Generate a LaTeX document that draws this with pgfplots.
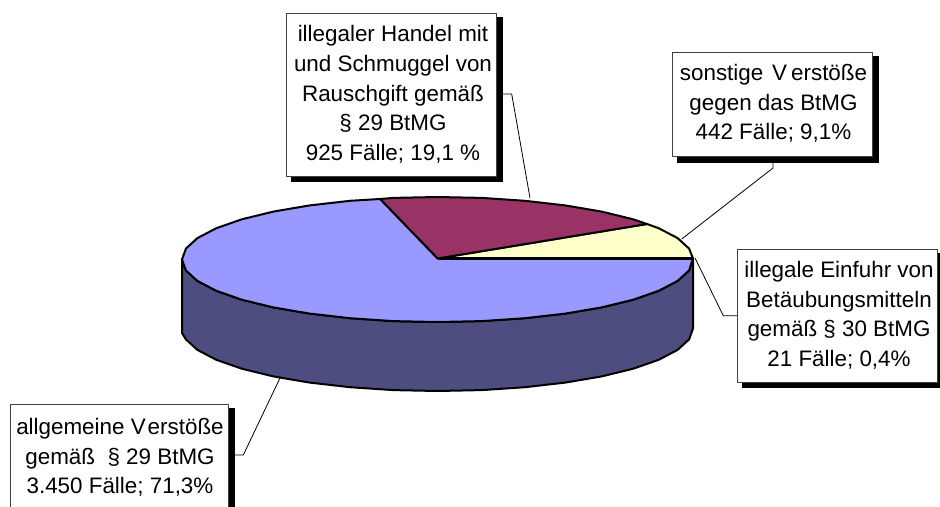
\documentclass[border=0pt]{standalone}
\usepackage{fontspec}
\setmainfont{Liberation Sans}
\usepackage{pgfplots}
\pgfplotsset{compat=1.18}
\definecolor{pieblue}{HTML}{9999FF}
\definecolor{piemaroon}{HTML}{993366}
\definecolor{pieyellow}{HTML}{FFFFCC}
\definecolor{pieside}{HTML}{4D4D80}
\definecolor{boxline}{HTML}{404040}
\tikzset{
  pie/.style={draw=black, line width=1.5pt},
  leader/.style={draw=black, line width=0.6pt},
  shadow/.style={draw=none, fill=black},
  lbox/.style={draw=boxline, line width=0.75pt, fill=white},
  lab/.style={align=center, inner sep=0pt, font=\fontsize{16.8}{22.2}\selectfont},
}
\begin{document}
\begin{tikzpicture}
\path[use as bounding box] (0,0) rectangle (705pt,380.25pt);
\begin{axis}[
  at={(0,0)}, anchor=south west,
  scale only axis, width=705pt, height=380.25pt,
  xmin=0, xmax=940, ymin=0, ymax=507, y dir=reverse,
  hide axis, clip=true,
  every axis plot/.append style={line join=round, mark=none},
]
% side wall
\addplot[pie, fill=pieside] coordinates {
 (182,259.5) (185.9,270.4) (197.4,280.9) (216.2,290.75) (241.8,299.7) (273.3,307.4)
 (309.75,313.6) (350.1,318.2) (393.1,321.1) (437.5,322) (481.9,321.1) (524.9,318.2)
 (565.25,313.6) (601.7,307.4) (633.2,299.7) (658.8,290.75) (677.6,280.9) (689.1,270.4) (693,259.5)
 (693,328.5) (689.1,339.4) (677.6,349.9) (658.8,359.75) (633.2,368.7) (601.7,376.4)
 (565.25,382.6) (524.9,387.2) (481.9,390.1) (437.5,391) (393.1,390.1) (350.1,387.2)
 (309.75,382.6) (273.3,376.4) (241.8,368.7) (216.2,359.75) (197.4,349.9) (185.9,339.4) (182,333)
} -- cycle;
% yellow slice: sonstige Verstoesse
\addplot[pie, fill=pieyellow] coordinates {
 (437.5,258.5) (647,224) (658.8,228.25) (677.6,238.1) (689.1,248.6) (693,258.5)
} -- cycle;
% maroon slice: illegaler Handel
\addplot[pie, fill=piemaroon] coordinates {
 (437.5,258.5) (380,199) (393.1,197.9) (437.5,197) (481.9,197.9) (524.9,200.8)
 (565.25,205.4) (601.7,211.6) (633.2,219.3) (647,224)
} -- cycle;
% blue slice: allgemeine Verstoesse
\addplot[pie, fill=pieblue] coordinates {
 (437.5,258.5) (693,258.5) (689.1,270.4) (677.6,280.9) (658.8,290.75) (633.2,299.7)
 (601.7,307.4) (565.25,313.6) (524.9,318.2) (481.9,321.1) (437.5,322) (393.1,321.1)
 (350.1,318.2) (309.75,313.6) (273.3,307.4) (241.8,299.7) (216.2,290.75) (197.4,280.9)
 (185.9,270.4) (182,259.5) (185.9,248.6) (197.4,238.1) (216.2,228.25) (241.8,219.3)
 (273.3,211.6) (309.75,205.4) (350.1,200.8) (380,199)
} -- cycle;
% thin 0.4 % slice edge
\addplot[draw=black, line width=2pt] coordinates {(437.5,258.5) (693,258.5)};
% leader lines
\addplot[leader] coordinates {(496.7,94) (511.7,94) (530,198)};
\addplot[leader] coordinates {(773,156) (773,168) (681.7,239)};
\addplot[leader] coordinates {(737.7,315.7) (723.3,315.7) (695,258)};
\addplot[leader] coordinates {(228.7,455) (243.3,455) (280,378)};
% box 1
\addplot[shadow] coordinates {(291,17) (503,17) (503,182) (291,182)} -- cycle;
\addplot[lbox] coordinates {(286.7,13) (496.7,13) (496.7,176) (286.7,176)} -- cycle;
% box 2
\addplot[shadow] coordinates {(677,56) (879,56) (879,163) (677,163)} -- cycle;
\addplot[lbox] coordinates {(672.7,52.3) (872.3,52.3) (872.3,156.3) (672.7,156.3)} -- cycle;
% box 3
\addplot[shadow] coordinates {(742,253) (940,253) (940,388) (742,388)} -- cycle;
\addplot[lbox] coordinates {(737.7,249) (937.7,249) (937.7,382.7) (737.7,382.7)} -- cycle;
% box 4
\addplot[shadow] coordinates {(14,408) (235,408) (235,520) (14,520)} -- cycle;
\addplot[lbox] coordinates {(10,404) (228.7,404) (228.7,520) (10,520)} -- cycle;
% texts
\node[lab] at (axis cs:393,94.5) {illegaler Handel mit\\und Schmuggel von\\Rauschgift gemäß\\§ 29 BtMG\\925 Fälle; 19,1 \%};
\node[lab] at (axis cs:773.5,103.5) {sonstige\kern2pt\ V\kern3pt erstöße\\gegen das BtMG\\442 Fälle; 9,1\%};
\node[lab] at (axis cs:839,315.5) {illegale Einfuhr von\\Betäubungsmitteln\\gemäß § 30 BtMG\\21 Fälle; 0,4\%};
\node[lab] at (axis cs:120,457.5) {allgemeine V\kern1.5pt erstöße\\gemäß\ \ § 29 BtMG\\3.450 Fälle; 71,3\%};
\end{axis}
\end{tikzpicture}
\end{document}
